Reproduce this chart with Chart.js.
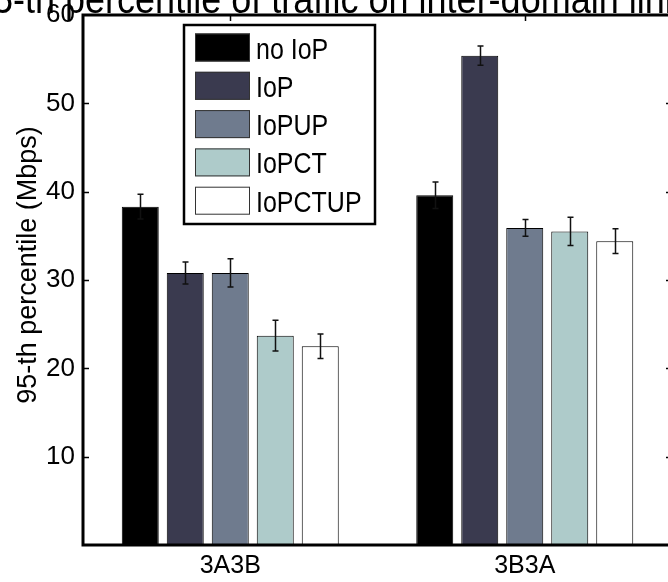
<!DOCTYPE html>
<html>
<head>
<meta charset="utf-8">
<script src="https://cdn.jsdelivr.net/npm/chart.js@4"></script>
<style>
  html, body { margin: 0; padding: 0; background: #fff; overflow: hidden; }
  #wrap { width: 676px; height: 582px; }
</style>
</head>
<body>
<div id="wrap"><canvas id="myChart" width="676" height="582"></canvas></div>
<script>
// links measured in both directions
const groups = ['3A3B', '3B3A']
const seriesNames = ['no IoP', 'IoP', 'IoPUP', 'IoPCT', 'IoPCTUP']
const seriesColors = ['#000000', '#3a3a4f', '#6f7b8e', '#aecbca', '#ffffff']

// 95-th percentile (Mbps)
const noIop = [38.3, 39.6]
const iop = [30.8, 55.4]
const iopUp = [30.8, 35.9]
const iopCt = [23.7, 35.5]
const iopCtUp = [22.5, 34.4]

// half width of the error bars
const noIopErr = [1.4, 1.5]
const iopErr = [1.25, 1.1]
const iopUpErr = [1.6, 0.95]
const iopCtErr = [1.75, 1.6]
const iopCtUpErr = [1.4, 1.4]

const yTicks = [10, 20, 30, 40, 50, 60]

const values = [noIop, iop, iopUp, iopCt, iopCtUp]
const errors = [noIopErr, iopErr, iopUpErr, iopCtErr, iopCtUpErr]

const FONT = '"Liberation Sans", Arial, sans-serif'

// text a bit taller than wide, the figure was saved stretched
function tallText(ctx, text, x, y, stretch) {
  ctx.save()
  ctx.translate(x, y)
  ctx.scale(1, stretch)
  ctx.fillText(text, 0, 0)
  ctx.restore()
}

// box round the axes with small inward ticks, like the old matlab figures
const axesBox = {
  id: 'axesBox',
  afterDatasetsDraw(chart) {
    const { ctx, chartArea: a, scales } = chart
    ctx.save()
    ctx.strokeStyle = '#000'
    ctx.lineWidth = 1.5
    yTicks.forEach(v => {
      if (v >= 60) return
      const y = Math.round(scales.y.getPixelForValue(v)) + 0.5
      ctx.beginPath()
      ctx.moveTo(a.left, y)
      ctx.lineTo(a.left + 6, y)
      ctx.moveTo(a.right, y)
      ctx.lineTo(a.right - 6, y)
      ctx.stroke()
    })
    groups.forEach((g, i) => {
      const x = Math.round(scales.x.getPixelForValue(i)) + 0.5
      ctx.beginPath()
      ctx.moveTo(x, a.top)
      ctx.lineTo(x, a.top + 6)
      ctx.stroke()
    })
    ctx.lineWidth = 3
    ctx.strokeRect(a.left, a.top, a.right - a.left, a.bottom - a.top)
    ctx.restore()
  }
}

const errorBars = {
  id: 'errorBars',
  afterDatasetsDraw(chart) {
    const { ctx, scales } = chart
    ctx.save()
    ctx.strokeStyle = '#111'
    ctx.lineWidth = 1.5
    chart.data.datasets.forEach((ds, di) => {
      const meta = chart.getDatasetMeta(di)
      meta.data.forEach((bar, i) => {
        const x = Math.round(bar.x) + 0.5
        const hi = scales.y.getPixelForValue(ds.data[i] + errors[di][i])
        const lo = scales.y.getPixelForValue(ds.data[i] - errors[di][i])
        ctx.beginPath()
        ctx.moveTo(x, hi)
        ctx.lineTo(x, lo)
        ctx.moveTo(x - 3, hi)
        ctx.lineTo(x + 3, hi)
        ctx.moveTo(x - 3, lo)
        ctx.lineTo(x + 3, lo)
        ctx.stroke()
      })
    })
    ctx.restore()
  }
}

// title and y label; the title runs off the top and sides of the page
const axisTexts = {
  id: 'axisTexts',
  afterDraw(chart) {
    const { ctx } = chart
    ctx.save()
    ctx.fillStyle = '#000'
    ctx.font = '36px ' + FONT
    ctx.textAlign = 'left'
    ctx.textBaseline = 'alphabetic'
    tallText(ctx, '95-th percentile of traffic on inter-domain links', -27, 13, 1.15)

    ctx.font = '27px ' + FONT
    ctx.textAlign = 'center'
    ctx.textBaseline = 'middle'
    ctx.translate(29, 265)
    ctx.rotate(-Math.PI / 2)
    ctx.fillText('95-th percentile (Mbps)', 0, 0)
    ctx.restore()
  }
}

// legend box in the upper left of the plot
const boxLegend = {
  id: 'boxLegend',
  afterDraw(chart) {
    const { ctx } = chart
    const left = 184, top = 25, w = 191, h = 199
    ctx.save()
    ctx.fillStyle = '#fff'
    ctx.fillRect(left, top, w, h)
    ctx.strokeStyle = '#000'
    ctx.lineWidth = 2.5
    ctx.strokeRect(left, top, w, h)
    ctx.font = '25px ' + FONT
    ctx.textBaseline = 'alphabetic'
    chart.data.datasets.forEach((ds, i) => {
      const y = top + 8.5 + i * 38.3
      ctx.fillStyle = ds.backgroundColor
      ctx.fillRect(left + 11, y, 55, 28)
      ctx.strokeStyle = '#333'
      ctx.lineWidth = 1
      ctx.strokeRect(left + 11.5, y + 0.5, 54, 27)
      ctx.fillStyle = '#000'
      tallText(ctx, ds.label, left + 72, y + 25, 1.17)
    })
    ctx.restore()
  }
}

function createChart() {
  const ctx = document.getElementById('myChart').getContext('2d')

  new Chart(ctx, {
    type: 'bar',
    data: {
      labels: groups,
      datasets: seriesNames.map((name, i) => ({
        label: name,
        data: values[i],
        backgroundColor: seriesColors[i],
        borderColor: '#000',
        borderWidth: 1,
        categoryPercentage: 0.764,
        barPercentage: 0.822
      }))
    },
    options: {
      responsive: false,
      animation: false,
      layout: { padding: { top: 15, right: 4, left: 0, bottom: 0 } },
      plugins: {
        legend: { display: false },
        tooltip: { enabled: false }
      },
      scales: {
        x: {
          grid: { display: false, drawTicks: false },
          border: { display: false },
          ticks: {
            padding: 6,
            color: '#000',
            font: { family: FONT, size: 25 }
          },
          afterFit(scale) {
            scale.height = 37
            scale.paddingLeft = 0
            scale.paddingRight = 0
          }
        },
        y: {
          min: 0,
          max: 60,
          afterBuildTicks(scale) {
            scale.ticks = yTicks.map(v => ({ value: v }))
          },
          grid: { display: false, drawTicks: false },
          border: { display: false },
          ticks: {
            padding: 8,
            color: '#000',
            font: { family: FONT, size: 26 }
          },
          afterFit(scale) {
            scale.width = 83
            scale.paddingTop = 0
            scale.paddingBottom = 0
          }
        }
      }
    },
    plugins: [errorBars, axesBox, axisTexts, boxLegend]
  })
}

createChart()
</script>
</body>
</html>
